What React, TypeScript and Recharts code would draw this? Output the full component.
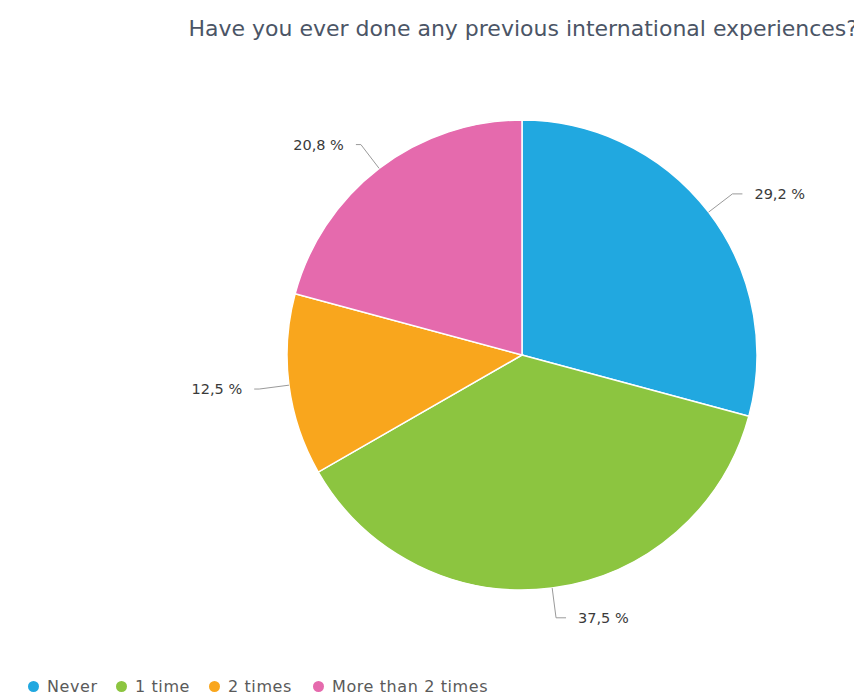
import React from "react";
import { PieChart, Pie, Cell, Legend } from "recharts";

const categories = ["Never", "1 time", "2 times", "More than 2 times"];
const values = [29.2, 37.5, 12.5, 20.8];
const valueLabels = ["29,2 %", "37,5 %", "12,5 %", "20,8 %"];
const colors = ["#21a8e0", "#8cc540", "#f9a61d", "#e56aad"];
const title = "Have you ever done any previous international experiences?";

const data = categories.map((name, i) => ({ name, value: values[i], label: valueLabels[i] }));

const RAD = Math.PI / 180;

const renderLabel = (props: any) => {
  const { cx, cy, midAngle, outerRadius, index } = props;
  const cos = Math.cos(-midAngle * RAD);
  const sin = Math.sin(-midAngle * RAD);
  const sx = cx + outerRadius * cos;
  const sy = cy + outerRadius * sin;
  const mx = cx + (outerRadius + 30) * cos;
  const my = cy + (outerRadius + 30) * sin;
  const right = cos >= 0;
  const ex = mx + (right ? 10 : -5);
  const tx = ex + (right ? 12 : -12);
  return (
    <g key={`lbl-${index}`}>
      <polyline
        points={`${sx},${sy} ${mx},${my} ${ex},${my}`}
        fill="none"
        stroke="#9a9a9a"
        strokeWidth={1}
      />
      <text
        x={tx}
        y={my}
        textAnchor={right ? "start" : "end"}
        dominantBaseline="central"
        fontSize={14.5}
        fontFamily="DejaVu Sans, sans-serif"
        fill="#3a3a3a"
      >
        {data[index].label}
      </text>
    </g>
  );
};

const itemWidths = [88, 93, 104, 200];

const renderLegend = () => (
  <div
    style={{
      display: "flex",
      alignItems: "center",
      whiteSpace: "nowrap",
      fontFamily: "DejaVu Sans, sans-serif",
      fontSize: 16,
      letterSpacing: 0.6,
      color: "#5a5a5a",
    }}
  >
    {categories.map((name, i) => (
      <div key={name} style={{ display: "flex", alignItems: "center", width: itemWidths[i] }}>
        <span
          style={{
            display: "inline-block",
            width: 11,
            height: 11,
            borderRadius: "50%",
            background: colors[i],
            marginRight: 8,
            flexShrink: 0,
          }}
        />
        <span>{name}</span>
      </div>
    ))}
  </div>
);

export default function App() {
  return (
    <div style={{ position: "relative", width: 854, height: 692, background: "#fff" }}>
      <div
        style={{
          position: "absolute",
          right: 4,
          top: 8,
          fontFamily: "DejaVu Sans, sans-serif",
          fontSize: 22,
          color: "#4b5566",
          whiteSpace: "nowrap",
          zIndex: 2,
        }}
      >
        {title}
      </div>
      <PieChart width={854} height={692}>
        <Pie
          data={data}
          dataKey="value"
          nameKey="name"
          cx={509}
          cy={342}
          outerRadius={235}
          startAngle={90}
          endAngle={-270}
          stroke="#ffffff"
          strokeWidth={1.5}
          label={renderLabel}
          labelLine={false}
          isAnimationActive={false}
        >
          {data.map((d, i) => (
            <Cell key={d.name} fill={colors[i]} />
          ))}
        </Pie>
        <Legend
          verticalAlign="bottom"
          align="left"
          content={renderLegend}
          wrapperStyle={{ left: 20, bottom: 4, width: "auto" }}
        />
      </PieChart>
    </div>
  );
}
